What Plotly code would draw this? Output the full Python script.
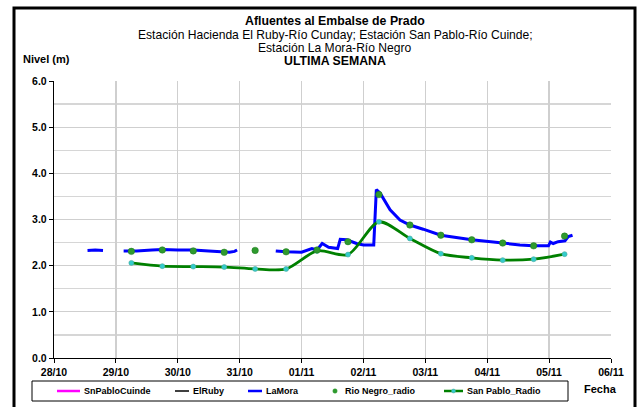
import plotly.graph_objects as go

# ---------------- data ----------------
lamora_t = [
    "2010-10-28 13:00", "2010-10-28 16:00", "2010-10-28 19:00", None,
    "2010-10-29 03:00", "2010-10-29 08:00", "2010-10-29 14:00", "2010-10-29 18:00",
    "2010-10-30 00:00", "2010-10-30 06:00", "2010-10-30 12:00", "2010-10-30 16:00",
    "2010-10-30 20:00", "2010-10-30 22:00", "2010-10-30 23:00", None,
    "2010-10-31 14:00", "2010-10-31 18:00", "2010-11-01 00:00", "2010-11-01 04:00",
    "2010-11-01 06:00", "2010-11-01 08:00", "2010-11-01 10:30", "2010-11-01 14:00",
    "2010-11-01 15:00", "2010-11-01 17:30", "2010-11-01 21:20", "2010-11-02 00:00",
    "2010-11-02 04:00", "2010-11-02 05:00", "2010-11-02 06:30", "2010-11-02 10:20",
    "2010-11-02 14:10", "2010-11-02 18:00", "2010-11-02 23:10", "2010-11-03 01:50",
    "2010-11-03 06:00", "2010-11-03 18:00", "2010-11-04 06:00", "2010-11-04 12:40",
    "2010-11-04 17:50", "2010-11-04 23:45", "2010-11-05 00:30", "2010-11-05 01:35",
    "2010-11-05 03:30", "2010-11-05 06:10", "2010-11-05 07:25", "2010-11-05 09:05",
]
lamora_v = [
    2.33, 2.34, 2.33, None,
    2.32, 2.32, 2.34, 2.35,
    2.34, 2.34, 2.32, 2.30,
    2.29, 2.31, 2.34, None,
    2.32, 2.30, 2.29, 2.37,
    2.34, 2.48, 2.40, 2.37,
    2.57, 2.56, 2.48, 2.45,
    2.45, 3.65, 3.57, 3.21,
    2.99, 2.88, 2.79, 2.74,
    2.66, 2.56, 2.48, 2.45,
    2.43, 2.43, 2.51, 2.48,
    2.52, 2.54, 2.63, 2.66,
]

radio_t = [
    "2010-10-29 06:00", "2010-10-29 18:00", "2010-10-30 06:00", "2010-10-30 18:00",
    "2010-10-31 06:00", "2010-10-31 18:00", "2010-11-01 06:00", "2010-11-01 18:00",
    "2010-11-02 06:00", "2010-11-02 18:00", "2010-11-03 06:00", "2010-11-03 18:00",
    "2010-11-04 06:00", "2010-11-04 18:00", "2010-11-05 06:00",
]
rionegro_v = [2.31, 2.34, 2.32, 2.29, 2.33, 2.30, 2.34, 2.52,
              3.54, 2.88, 2.66, 2.56, 2.49, 2.43, 2.64]
sanpablo_v = [2.06, 1.99, 1.98, 1.97, 1.93, 1.93, 2.32, 2.24,
              2.95, 2.59, 2.26, 2.17, 2.12, 2.14, 2.25]

snpablocuinde_t = [None]
snpablocuinde_v = [None]
elruby_t = [None]
elruby_v = [None]

series_names = ["SnPabloCuinde", "ElRuby", "LaMora", "Rio Negro_radio", "San Pablo_Radio"]

x_ticks = ["2010-10-28", "2010-10-29", "2010-10-30", "2010-10-31", "2010-11-01",
           "2010-11-02", "2010-11-03", "2010-11-04", "2010-11-05", "2010-11-06"]
x_tick_labels = ["28/10", "29/10", "30/10", "31/10", "01/11",
                 "02/11", "03/11", "04/11", "05/11", "06/11"]
y_ticks = [0, 1, 2, 3, 4, 5, 6]
y_tick_labels = ["0.0", "1.0", "2.0", "3.0", "4.0", "5.0", "6.0"]

# ---------------- figure ----------------
FONT = "Liberation Sans, Arial, sans-serif"
C_MAG, C_BLK, C_BLUE, C_DOT, C_GREEN, C_CYAN = (
    "#FF00FF", "#000000", "#0000FF", "#2E9A2E", "#008000", "#33CCCC")

fig = go.Figure()
fig.add_trace(go.Scatter(x=snpablocuinde_t, y=snpablocuinde_v, mode="lines",
                         name=series_names[0], line=dict(color=C_MAG, width=2.5)))
fig.add_trace(go.Scatter(x=elruby_t, y=elruby_v, mode="lines",
                         name=series_names[1], line=dict(color=C_BLK, width=1.5)))
fig.add_trace(go.Scatter(x=lamora_t, y=lamora_v, mode="lines",
                         name=series_names[2], connectgaps=False,
                         line=dict(color=C_BLUE, width=3)))
fig.add_trace(go.Scatter(x=radio_t, y=sanpablo_v, mode="lines+markers",
                         name=series_names[4],
                         line=dict(color=C_GREEN, width=2.8, shape="spline", smoothing=0.8),
                         marker=dict(color=C_CYAN, size=5, symbol="circle",
                                     line=dict(color="#4FA9A0", width=0.6))))
fig.add_trace(go.Scatter(x=radio_t, y=rionegro_v, mode="markers",
                         name=series_names[3],
                         marker=dict(color=C_DOT, size=6.5,
                                     line=dict(color="#1E7A1E", width=0.5))))

fig.update_xaxes(
    type="date", range=["2010-10-28", "2010-11-06"],
    tickvals=x_ticks, ticktext=["<b>%s</b>" % t for t in x_tick_labels],
    showgrid=True, gridcolor="#CFCFCF", gridwidth=1.3,
    showline=True, linecolor="#000000", linewidth=1.2,
    ticks="outside", ticklen=4, tickcolor="#000000",
    tickfont=dict(family=FONT, size=10.5, color="#000000"),
    zeroline=False, automargin=False,
)
fig.update_yaxes(
    range=[0, 6], tickvals=y_ticks,
    ticktext=["<b>%s</b>" % t for t in y_tick_labels],
    showgrid=True, gridcolor="#CFCFCF", gridwidth=1.3,
    minor=dict(dtick=0.5, showgrid=True, gridcolor="#D6D6D6", gridwidth=1.2),
    showline=True, linecolor="#000000", linewidth=1.2,
    ticks="outside", ticklen=4, tickcolor="#000000",
    tickfont=dict(family=FONT, size=10.5, color="#000000"),
    zeroline=False, automargin=False,
)

L, R, T, B = 54, 611, 81, 358
W, H = 643, 407


def px(xp):
    return (xp - L) / (R - L)


def py(yp):
    return (B - yp) / (B - T)


ann = []
title_lines = [
    ("<b>Afluentes al Embalse de Prado</b>", 20.5, 12.3),
    ("Estación Hacienda El Ruby-Río Cunday; Estación San Pablo-Río Cuinde;", 34.5, 12.1),
    ("Estación La Mora-Río Negro", 47.5, 12.1),
    ("<b>ULTIMA SEMANA</b>", 61, 12.3),
]
for txt, yp, fs in title_lines:
    ann.append(dict(text=txt, x=px(335), y=py(yp), xref="paper", yref="paper",
                    xanchor="center", yanchor="middle", showarrow=False,
                    font=dict(family=FONT, size=fs, color="#000000")))
ann.append(dict(text="<b>Nivel (m)</b>", x=px(21), y=py(59), xref="paper", yref="paper",
                xanchor="left", yanchor="middle", showarrow=False,
                font=dict(family=FONT, size=11, color="#000000")))
ann.append(dict(text="<b>Fecha</b>", x=px(600), y=py(389), xref="paper", yref="paper",
                xanchor="center", yanchor="middle", showarrow=False,
                font=dict(family=FONT, size=11, color="#000000")))

# outer chart frame
shapes = [dict(type="rect", xref="paper", yref="paper",
               x0=px(14), x1=px(635), y0=py(430), y1=py(8),
               line=dict(color="#000000", width=3), fillcolor="rgba(0,0,0,0)")]

# legend box (drawn by hand so its key sizes match the original)
LEG_Y = 391
shapes.append(dict(type="rect", xref="paper", yref="paper",
                   x0=px(32), x1=px(568), y0=py(401), y1=py(381),
                   line=dict(color="#000000", width=1), fillcolor="#FFFFFF"))
legend_keys = [
    ("line", C_MAG, 2.5, 57, 80, 82),
    ("line", C_BLK, 1.5, 175, 189, 191),
    ("line", C_BLUE, 2.5, 248, 262, 264),
    ("dot", C_DOT, 0, 335, 335, 343),
    ("line", C_GREEN, 2.5, 444, 463, 465),
]
for (kind, col, w, xa, xb, xt), name in zip(legend_keys, series_names):
    if kind == "line":
        shapes.append(dict(type="line", xref="paper", yref="paper",
                           x0=px(xa), x1=px(xb), y0=py(LEG_Y), y1=py(LEG_Y),
                           line=dict(color=col, width=w)))
    else:
        shapes.append(dict(type="circle", xref="paper", yref="paper",
                           x0=px(xa - 2.2), x1=px(xa + 2.2),
                           y0=py(LEG_Y + 2.2), y1=py(LEG_Y - 2.2),
                           line=dict(color=col, width=0.5), fillcolor=col))
    ann.append(dict(text="<b>%s</b>" % name, x=px(xt), y=py(LEG_Y), xref="paper",
                    yref="paper", xanchor="left", yanchor="middle", showarrow=False,
                    font=dict(family=FONT, size=9, color="#000000")))
shapes.append(dict(type="circle", xref="paper", yref="paper",
                   x0=px(453.5 - 2), x1=px(453.5 + 2),
                   y0=py(LEG_Y + 2), y1=py(LEG_Y - 2),
                   line=dict(color="#4FA9A0", width=0.5), fillcolor=C_CYAN))

fig.update_layout(
    width=W, height=H,
    margin=dict(l=L, r=W - R, t=T, b=H - B, pad=0, autoexpand=False),
    paper_bgcolor="#FFFFFF", plot_bgcolor="#FFFFFF",
    font=dict(family=FONT, size=10, color="#000000"),
    showlegend=False, hovermode=False,
    annotations=ann, shapes=shapes,
)

fig.write_html("out.html",
               config={"displayModeBar": False, "staticPlot": True},
               post_script="document.body.style.margin='0px';"
                           "document.body.style.overflow='hidden';")
